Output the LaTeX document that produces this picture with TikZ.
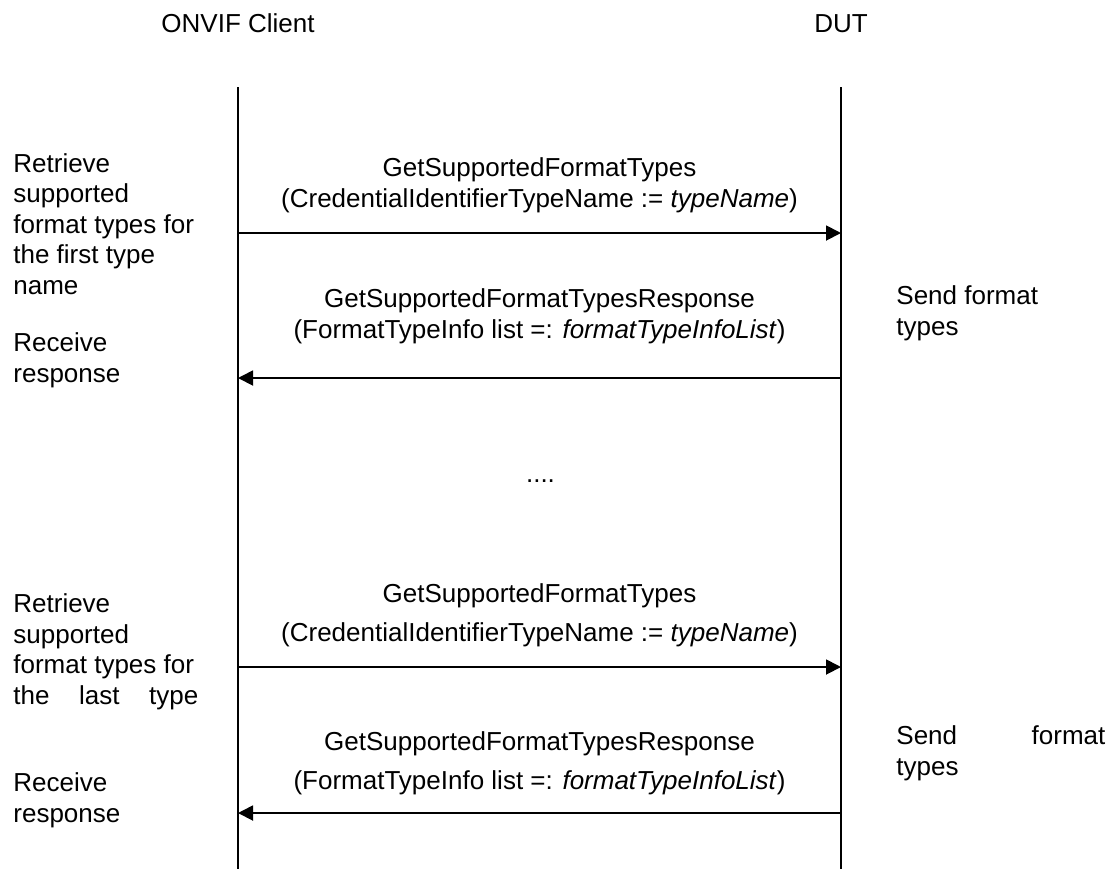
\documentclass[tikz,border=0pt]{standalone}
\usepackage{fontspec}
\setmainfont{Liberation Sans}
\usetikzlibrary{arrows.meta}

\begin{document}
\begin{tikzpicture}[
    x=0.5pt, y=-0.5pt,
    txt/.style={inner sep=0pt, font=\fontsize{13pt}{15.25pt}\selectfont},
    note/.style={txt, align=left, anchor=base west},
    msg/.style={txt, align=center, anchor=base},
    life/.style={line width=1pt},
    call/.style={line width=0.9pt, -{Triangle[length=7.5pt,width=7.5pt]}}
  ]
  \useasboundingbox (0,0) rectangle (1112,869);

  % participants and lifelines
  \node[txt, anchor=base] (client) at (238,32) {ONVIF Client};
  \node[txt, anchor=base] (dut) at (841,32) {DUT};
  \coordinate (cTop) at (238,87);
  \coordinate (cBot) at (238,869);
  \coordinate (dTop) at (841,87);
  \coordinate (dBot) at (841,869);
  \draw[life] (cTop) -- (cBot);
  \draw[life] (dTop) -- (dBot);

  % message end points
  \coordinate (c1) at (238,233); \coordinate (d1) at (841,233);
  \coordinate (c2) at (238,378); \coordinate (d2) at (841,378);
  \coordinate (c3) at (238,667); \coordinate (d3) at (841,667);
  \coordinate (c4) at (238,813); \coordinate (d4) at (841,813);
  \draw[call] (c1) -- (d1);
  \draw[call] (d2) -- (c2);
  \draw[call] (c3) -- (d3);
  \draw[call] (d4) -- (c4);

  % message labels (base = last line)
  \node[msg] (req1) at (539.5,207) {GetSupportedFormatTypes\\(CredentialIdentifierTypeName := \textit{typeName})};
  \node[msg] (resp1) at (539.5,338) {GetSupportedFormatTypesResponse\\(FormatTypeInfo list =: \textit{formatTypeInfoList})};
  \node[txt, anchor=base] (gap) at (540.5,482) {....};
  \node[msg] (req2) at (539.5,641) {GetSupportedFormatTypes\\[4.25pt](CredentialIdentifierTypeName := \textit{typeName})};
  \node[msg] (resp2) at (539.5,789) {GetSupportedFormatTypesResponse\\[4.25pt](FormatTypeInfo list =: \textit{formatTypeInfoList})};

  % client side notes
  \node[note] (retr1) at (13,294) {Retrieve\\supported\\format types for\\the first type\\name};
  \node[note] (recv1) at (13,382) {Receive\\response};
  \node[note] (retr2) at (13,704) {Retrieve\\supported\\format types for\\\makebox[92.5pt][s]{the last type}};
  \node[note] (recv2) at (13,822) {Receive\\response};

  % DUT side notes
  \node[note] (send1) at (896,335) {Send format\\types};
  \node[note] (send2) at (896,775) {\makebox[104.5pt][s]{Send format}\\types};
\end{tikzpicture}
\end{document}
